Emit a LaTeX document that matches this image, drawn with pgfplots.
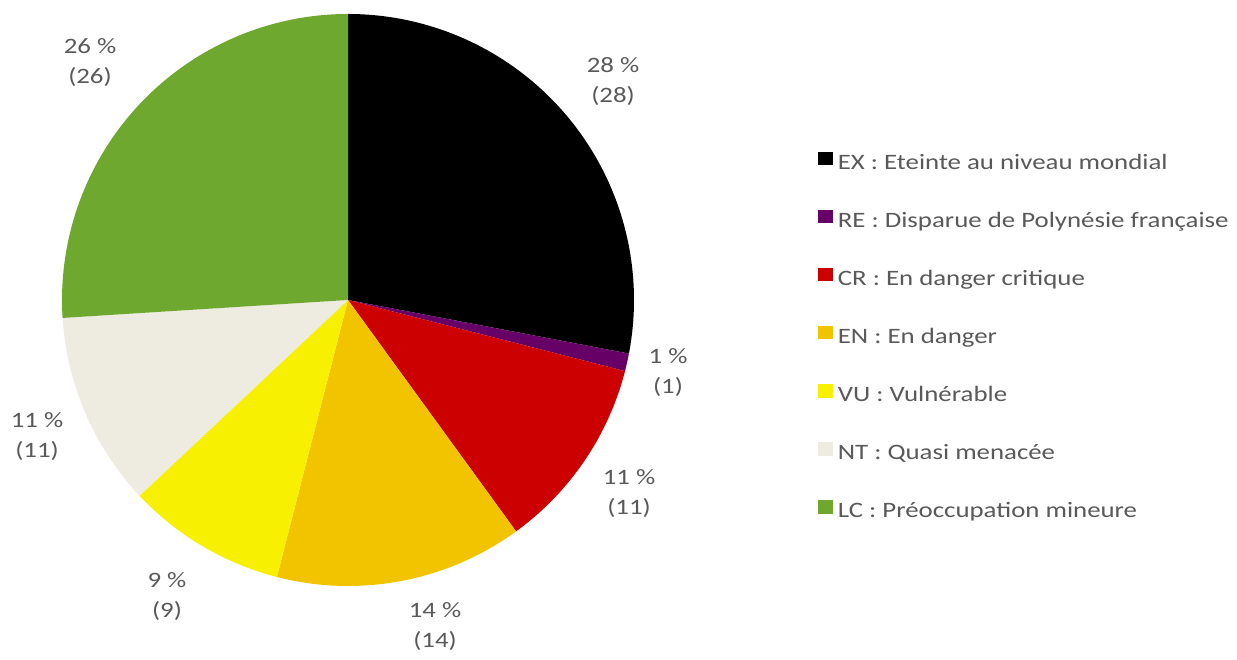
\documentclass[border=0pt]{standalone}
\usepackage{pgfplots}
\usepackage{pgfplotstable}
\pgfplotsset{compat=1.18}
\usepackage{fontspec}
\setmainfont{Carlito}[FakeStretch=1.22]
\definecolor{cEX}{HTML}{000000}
\definecolor{cRE}{HTML}{660066}
\definecolor{cCR}{HTML}{CC0000}
\definecolor{cEN}{HTML}{F2C400}
\definecolor{cVU}{HTML}{F7F000}
\definecolor{cNT}{HTML}{EEEBE1}
\definecolor{cLC}{HTML}{6FA82F}
\definecolor{txt}{HTML}{595959}

\pgfplotstableread{
code value lx ly
EX 28 613 578
RE 1 668 287
CR 11 629 166
EN 14 435 33
VU 9 167 63
NT 11 37 223
LC 26 90 597
}\piedata

% cumulative angles (clockwise from 12 o'clock)
\xdef\cumangle{90}
\pgfplotsforeachungrouped \i in {0,...,6}{%
  \pgfplotstablegetelem{\i}{value}\of\piedata
  \pgfmathsetmacro\endangle{\cumangle-3.6*\pgfplotsretval}%
  \expandafter\xdef\csname sa\i\endcsname{\cumangle}%
  \expandafter\xdef\csname ea\i\endcsname{\endangle}%
  \xdef\cumangle{\endangle}%
  \pgfplotstablegetelem{\i}{code}\of\piedata
  \expandafter\xdef\csname col\i\endcsname{c\pgfplotsretval}%
  \pgfplotstablegetelem{\i}{value}\of\piedata
  \expandafter\xdef\csname val\i\endcsname{\pgfplotsretval}%
  \pgfplotstablegetelem{\i}{lx}\of\piedata
  \expandafter\xdef\csname lx\i\endcsname{\pgfplotsretval}%
  \pgfplotstablegetelem{\i}{ly}\of\piedata
  \expandafter\xdef\csname ly\i\endcsname{\pgfplotsretval}%
}

\begin{document}
\begin{tikzpicture}
\begin{axis}[
  width=618.5bp, height=330bp, scale only axis,
  xmin=0, xmax=1237, ymin=0, ymax=660,
  hide axis, clip=false,
  font=\fontsize{11bp}{13bp}\selectfont,
  legend image code/.code={\fill[#1, draw=none] (0bp,-0.9bp) rectangle (7.2bp,5.8bp);},
  legend style={at={(axis cs:818,509)}, anchor=north west, draw=none, fill=none,
    font=\fontsize{11bp}{13bp}\selectfont\color{txt},
    nodes={inner sep=0pt, text height=9bp, text depth=3bp, anchor=west},
    row sep=17.05bp, column sep=2.5bp, inner sep=0pt},
  legend cell align=left,
]
\path (axis cs:0,0) rectangle (axis cs:1237,660);
\pgfplotsinvokeforeach{0,...,6}{%
  \fill[\csname col#1\endcsname]
    (axis cs:348,360) -- ++(\csname sa#1\endcsname:143bp)
    arc[start angle=\csname sa#1\endcsname, end angle=\csname ea#1\endcsname, radius=143bp] -- cycle;
  \node[txt, align=center, inner sep=0pt, font=\fontsize{11bp}{15bp}\selectfont]
    at (axis cs:\csname lx#1\endcsname,\csname ly#1\endcsname)
    {\csname val#1\endcsname\ \%\\(\csname val#1\endcsname)};
}
\addlegendimage{fill=cEX}\addlegendentry{EX : Eteinte au niveau mondial}
\addlegendimage{fill=cRE}\addlegendentry{RE : Disparue de Polynésie française}
\addlegendimage{fill=cCR}\addlegendentry{CR : En danger critique}
\addlegendimage{fill=cEN}\addlegendentry{EN : En danger}
\addlegendimage{fill=cVU}\addlegendentry{VU : Vulnérable}
\addlegendimage{fill=cNT}\addlegendentry{NT : Quasi menacée}
\addlegendimage{fill=cLC}\addlegendentry{LC : Préoccupation mineure}
\end{axis}
\end{tikzpicture}
\end{document}
